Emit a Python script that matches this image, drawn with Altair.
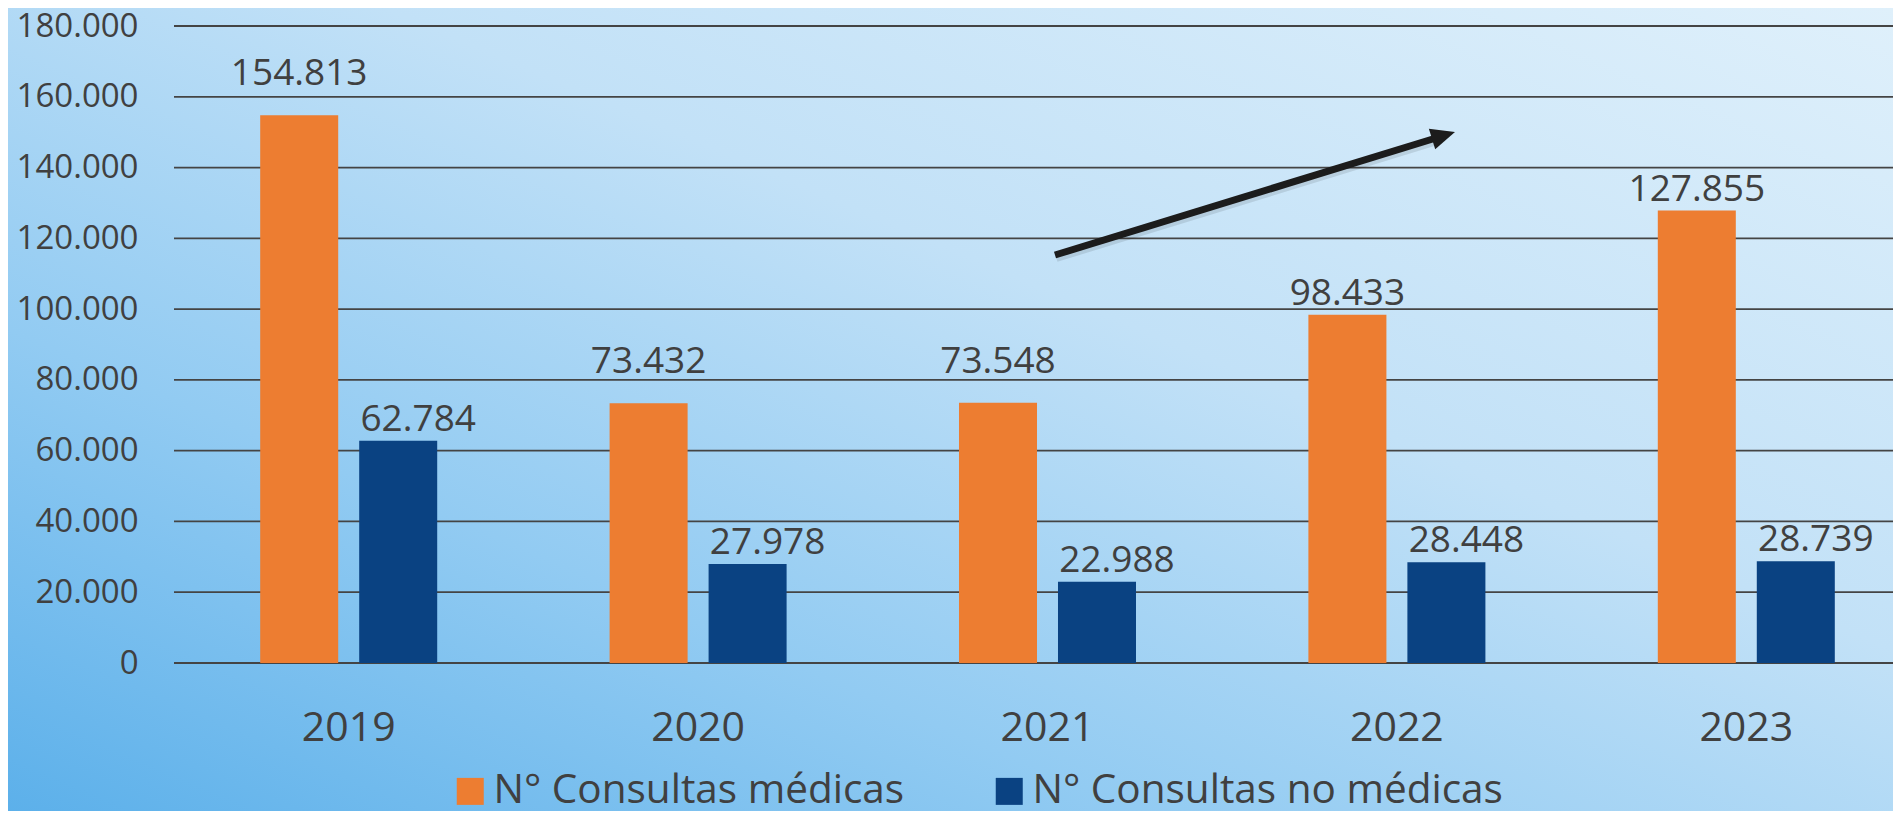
import altair as alt
import pandas as pd

# ---------------- data ----------------
years = ["2019", "2020", "2021", "2022", "2023"]
series = ["N° Consultas médicas", "N° Consultas no médicas"]
medicas = [154813, 73432, 73548, 98433, 127855]
no_medicas = [62784, 27978, 22988, 28448, 28739]
y_ticks = [0, 20000, 40000, 60000, 80000, 100000, 120000, 140000, 160000, 180000]
colors = ["#ED7D31", "#0A4282"]

rows = []
for i, yr in enumerate(years):
    rows.append({"year": yr, "serie": series[0], "value": medicas[i]})
    rows.append({"year": yr, "serie": series[1], "value": no_medicas[i]})
df = pd.DataFrame(rows)

# ---------------- layout ----------------
W, H = 1719, 637
PL, PT, PR, PB = 166, 18, 0, 148
TEXT = "#404040"
FONT = "Open Sans"

yscale = alt.Scale(domain=[0, 180000], nice=False, zero=True)
yaxis = alt.Axis(values=y_ticks, format=",d", labelFontSize=33, labelColor=TEXT,
                 labelFont=FONT, labelPadding=36, ticks=False, tickSize=0,
                 domain=False, grid=False, title=None, zindex=1)
Y = alt.Y("value:Q", scale=yscale, axis=yaxis)

xscale = alt.Scale(domain=years, range=[0, 1747], paddingInner=0.4934, paddingOuter=0.2467)
xaxis = alt.Axis(labelFontSize=41, labelColor=TEXT, labelFont=FONT, labelPadding=77,
                 labelBaseline="alphabetic", labelAngle=0, ticks=False, tickSize=0,
                 domain=False, grid=False, title=None, zindex=1)
X = alt.X("year:N", scale=xscale, axis=xaxis, sort=years)
XO = alt.XOffset("serie:N", scale=alt.Scale(domain=series, paddingInner=0.212, paddingOuter=0))

C = alt.Color("serie:N", scale=alt.Scale(domain=series, range=colors),
              legend=alt.Legend(title=None, orient="none", legendX=276, legendY=745,
                                direction="horizontal", symbolType="square", symbolSize=729,
                                symbolStrokeWidth=0, labelFontSize=40.5, labelFont=FONT,
                                labelColor=TEXT, labelOffset=3, columnPadding=84,
                                labelLimit=1000, padding=0, zindex=1))

# ---------------- background ----------------
grad = alt.LinearGradient(
    gradient="linear", x1=0, y1=1, x2=1, y2=0,
    stops=[
        alt.GradientStop(offset=0.0, color="#5cb0ea"),
        alt.GradientStop(offset=0.3, color="#92cbf2"),
        alt.GradientStop(offset=0.6, color="#c2e1f7"),
        alt.GradientStop(offset=1.0, color="#dff0fb"),
    ],
)
bg = alt.Chart(pd.DataFrame({"k": [0]})).mark_rect(fill=grad, strokeWidth=0).encode(
    x=alt.value(-PL), x2=alt.value(W + PR), y=alt.value(-PT), y2=alt.value(H + PB)
)

grid = alt.Chart(pd.DataFrame({"value": y_ticks})).mark_rule(
    color="#444444", strokeWidth=1.8
).encode(y=Y)

bars = alt.Chart(df).mark_bar().encode(x=X, xOffset=XO, y=Y, color=C)

txt_base = alt.Chart(df).encode(x=X, xOffset=XO, y=Y, text=alt.Text("value:Q", format=",d"))
txt_kw = dict(font=FONT, fontSize=37, color=TEXT, baseline="alphabetic", align="center")

t_hi = txt_base.mark_text(dy=-30, **txt_kw).transform_filter(
    alt.FieldEqualPredicate(field="serie", equal=series[0])
).transform_filter(alt.FieldOneOfPredicate(field="year", oneOf=years[:3]))
t_lo = txt_base.mark_text(dy=-10, **txt_kw).transform_filter(
    alt.FieldEqualPredicate(field="serie", equal=series[0])
).transform_filter(alt.FieldOneOfPredicate(field="year", oneOf=years[3:]))
t_blue = txt_base.mark_text(dy=-10, dx=20, **txt_kw).transform_filter(
    alt.FieldEqualPredicate(field="serie", equal=series[1])
)

# ---------------- trend arrow (annotation) ----------------
one = pd.DataFrame({"k": [0]})
shadow = alt.Chart(one).mark_rule(color="#000000", opacity=0.10, strokeWidth=10).encode(
    x=alt.value(882), y=alt.value(231), x2=alt.value(1263), y2=alt.value(114)
)
shaft = alt.Chart(one).mark_rule(color="#1c1c1c", strokeWidth=7).encode(
    x=alt.value(881), y=alt.value(229), x2=alt.value(1262), y2=alt.value(112)
)
head = alt.Chart(one).mark_point(
    shape="M 1 0 L -1 -0.9 L -1 0.9 Z", size=576, angle=342.9,
    filled=True, fill="#1c1c1c", strokeWidth=0, opacity=1
).encode(x=alt.value(1269.5), y=alt.value(109.5))

chart = alt.layer(bg, grid, bars, t_hi, t_lo, t_blue, shadow, shaft, head).properties(
    width=W, height=H,
    padding={"left": PL, "top": PT, "right": PR, "bottom": PB},
    autosize=alt.AutoSizeParams(type="none"),
).configure(
    font=FONT,
    background="#9ccff2",
    locale={"number": {"decimal": ",", "thousands": ".", "grouping": [3], "currency": ["", " €"]}},
).configure_view(stroke=None)

chart.save("out.html", embed_options={"renderer": "svg", "actions": False})
